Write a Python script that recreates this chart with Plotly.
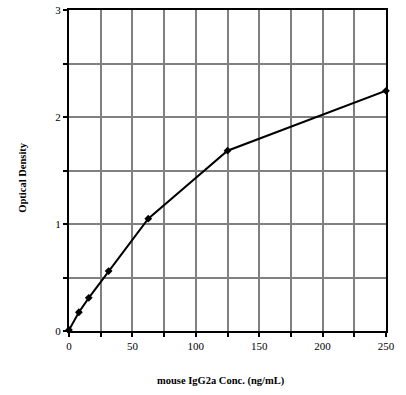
import plotly.graph_objects as go

conc = [0, 7.8, 15.6, 31.25, 62.5, 125, 250]
od = [0.01, 0.175, 0.31, 0.56, 1.05, 1.685, 2.245]

x_ticks = [0, 50, 100, 150, 200, 250]
y_ticks = [0, 1, 2, 3]

x_title = "mouse IgG2a Conc. (ng/mL)"
y_title = "Optical Density"

SERIF = "Liberation Serif"

fig = go.Figure()
fig.add_trace(go.Scatter(
    x=conc, y=od, mode="lines+markers",
    line=dict(color="black", width=2),
    marker=dict(symbol="diamond", size=6, color="black"),
    cliponaxis=False, showlegend=False,
))

fig.update_layout(
    width=406, height=395,
    margin=dict(l=69, r=20, t=10, b=64, autoexpand=False),
    plot_bgcolor="white", paper_bgcolor="white",
    font=dict(family=SERIF, size=11, color="black"),
)
common = dict(
    tickfont=dict(family=SERIF, size=11, color="black"),
    showline=True, linecolor="black", linewidth=2, mirror=True,
    ticks="outside", ticklen=4, tickwidth=2, tickcolor="black",
    showgrid=True, gridcolor="#808080", gridwidth=2,
    zeroline=False, automargin=False,
)
fig.update_xaxes(
    range=[0, 250], tickvals=x_ticks, ticktext=[str(v) for v in x_ticks],
    minor=dict(dtick=25, tick0=0, showgrid=True, gridcolor="#808080", gridwidth=2,
               ticks="outside", ticklen=4, tickwidth=2, tickcolor="black"),
    **common,
)
fig.update_yaxes(
    range=[0, 3], tickvals=y_ticks, ticktext=[str(v) for v in y_ticks],
    minor=dict(dtick=0.5, tick0=0, showgrid=True, gridcolor="#808080", gridwidth=2,
               ticks="outside", ticklen=4, tickwidth=2, tickcolor="black"),
    **common,
)
fig.add_annotation(
    text="<b>" + x_title + "</b>", xref="paper", yref="paper",
    x=0.478, y=-0.156, xanchor="center", yanchor="middle", showarrow=False,
    font=dict(family=SERIF, size=10.5, color="black"),
)
fig.add_annotation(
    text="<b>" + y_title + "</b>", xref="paper", yref="paper",
    x=-0.148, y=0.478, xanchor="center", yanchor="middle", showarrow=False,
    textangle=-90,
    font=dict(family=SERIF, size=10.5, color="black"),
)

fig.write_html("out.html", config={"displayModeBar": False},
               post_script="document.body.style.margin='0';")
